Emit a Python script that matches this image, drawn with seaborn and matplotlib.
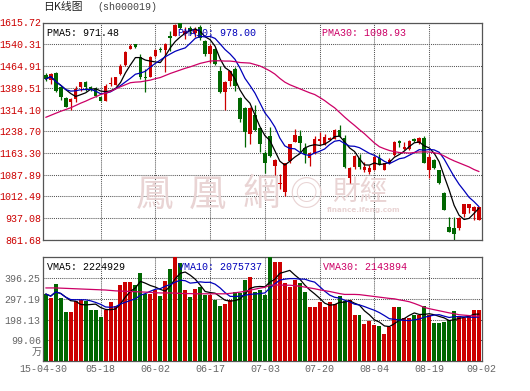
import numpy as np
import pandas as pd
import matplotlib
matplotlib.use("Agg")
import matplotlib.pyplot as plt
import seaborn as sns
from matplotlib.transforms import blended_transform_factory

# ---------------- data ----------------
opens = [1433.4, 1416.2, 1439.2, 1390.9, 1353.0, 1339.0, 1350.7, 1390.9, 1408.2, 1390.9,
         1385.2, 1356.4, 1344.9, 1402.4, 1400.1, 1436.9, 1467.9, 1523.1, 1540.3, 1494.4,
         1427.7, 1427.7, 1500.1, 1525, 1520, 1569, 1569, 1615, 1576, 1595,
         1578, 1600, 1552, 1506, 1523, 1448, 1374, 1414, 1454, 1353,
         1318, 1230, 1296, 1251, 1163, 1221, 1117, 1055, 1029, 1136,
         1201, 1221, 1182, 1147, 1163, 1204, 1193, 1209, 1213, 1244,
         1216, 1075, 1115, 1147, 1104, 1098, 1106, 1147, 1106, 1127,
         1155, 1204, 1178, 1178, 1213, 1198, 1216, 1106, 1140, 1104,
         1023, 908, 902, 902, 952, 971, 963, 931]
highs = [1440.3, 1439.2, 1442.6, 1396.7, 1358.7, 1353.0, 1396.7, 1408.2, 1413.9, 1396.7,
         1390.9, 1358.7, 1402.4, 1425.4, 1427.7, 1471.4, 1517.4, 1540.3, 1542.6, 1505.9,
         1454.1, 1500.1, 1523.1, 1530, 1543, 1586, 1612, 1615.7, 1600, 1605,
         1600, 1607, 1555, 1540, 1528, 1465, 1412, 1448, 1460, 1356,
         1322, 1322, 1328, 1253, 1170, 1253, 1142, 1092, 1129, 1196,
         1247, 1242, 1198, 1167, 1221, 1236, 1228, 1219, 1247, 1262,
         1224, 1115, 1155, 1161, 1132, 1121, 1153, 1161, 1129, 1147,
         1205, 1209, 1201, 1207, 1216, 1219, 1221, 1161, 1143, 1106,
         1029, 940, 943, 943, 986, 986, 980, 977]
lows = [1413.9, 1402.4, 1373.7, 1347.2, 1321.9, 1312.8, 1339.0, 1379.4, 1377.1, 1379.4,
        1358.7, 1342.6, 1344.9, 1396.7, 1398.0, 1434.6, 1465.6, 1523.1, 1528.9, 1419.7,
        1373.7, 1425.4, 1496.7, 1512, 1443, 1518, 1569, 1592, 1560, 1575,
        1565, 1555, 1500, 1477, 1468, 1372, 1311, 1397, 1379, 1270,
        1184, 1196, 1240, 1167, 1094, 1150, 1086, 1040, 1014, 1127,
        1201, 1167, 1129, 1117, 1161, 1190, 1190, 1207, 1213, 1219,
        1113, 1058, 1109, 1109, 1098, 1090, 1104, 1121, 1104, 1124,
        1153, 1184, 1175, 1175, 1201, 1196, 1127, 1075, 1109, 1055,
        966, 891, 862, 897, 940, 954, 931, 931]
closes = [1419.6, 1436.9, 1377.1, 1358.7, 1324.3, 1350.7, 1385.2, 1408.2, 1390.9, 1385.2,
          1362.2, 1344.9, 1396.7, 1404.8, 1425.4, 1465.6, 1513.9, 1534.6, 1531.2, 1425.4,
          1421.9, 1496.7, 1519.7, 1520, 1540, 1563, 1607, 1598, 1585, 1585,
          1592, 1563, 1506, 1535, 1471, 1374, 1410, 1446, 1397, 1282,
          1236, 1318, 1242, 1195, 1127, 1152, 1140, 1061, 1127, 1193,
          1224, 1198, 1161, 1165, 1213, 1211, 1219, 1215, 1242, 1221,
          1115, 1112, 1153, 1115, 1115, 1112, 1150, 1124, 1127, 1140,
          1201, 1198, 1184, 1205, 1205, 1216, 1129, 1150, 1112, 1058,
          966, 891, 883, 939, 985, 985, 977, 975]
pma30 = [1287, 1294, 1301, 1308, 1314, 1320, 1328, 1336, 1343, 1351,
         1358, 1366, 1371, 1377, 1385, 1393, 1400, 1407, 1409, 1410,
         1413, 1416, 1421, 1425, 1432, 1439, 1445, 1451, 1457, 1462,
         1468, 1474, 1478, 1482, 1483, 1483, 1482, 1482, 1480, 1477,
         1476, 1475, 1470, 1465, 1457, 1448, 1437, 1422, 1409, 1400,
         1393, 1386, 1379, 1372, 1366, 1356, 1345, 1332, 1320, 1304,
         1288, 1273, 1259, 1244, 1230, 1214, 1198, 1185, 1178, 1172,
         1168, 1165, 1164, 1163, 1165, 1167, 1167, 1167, 1164, 1161,
         1153, 1144, 1136, 1129, 1122, 1115, 1106, 1099]
volume = [320, 300, 370, 300, 235, 235, 288, 293, 288, 245,
          245, 208, 245, 282, 262, 365, 375, 378, 365, 420,
          320, 320, 340, 310, 380, 440, 495, 470, 340, 305,
          345, 355, 315, 315, 290, 262, 270, 292, 330, 325,
          385, 400, 330, 340, 317, 495, 471, 471, 374, 353,
          385, 374, 330, 257, 257, 281, 257, 281, 270, 312,
          285, 293, 221, 221, 178, 189, 173, 168, 130, 162,
          257, 260, 205, 205, 221, 221, 261, 221, 181, 181,
          186, 197, 240, 213, 205, 213, 245, 245]
vma30 = [349, 349, 349, 348, 347, 346, 345, 344, 343, 342,
         341, 340, 339, 337, 335, 334, 333, 332, 331, 330,
         329, 328, 326, 325, 325, 325, 324, 323, 322, 322,
         321, 321, 321, 321, 321, 321, 321, 323, 326, 329,
         333, 338, 343, 348, 352, 362, 363, 363, 362, 362,
         360, 357, 353, 349, 345, 340, 336, 332, 327, 322,
         318, 318, 318, 317, 314, 311, 308, 305, 302, 299,
         297, 292, 288, 283, 275, 266, 256, 250, 245, 240,
         235, 230, 226, 221, 219, 217, 215, 214]

price_ticks = [861.68, 937.08, 1012.49, 1087.89, 1163.30, 1238.70, 1314.10, 1389.51, 1464.91, 1540.31, 1615.72]
price_tick_labels = ["861.68", "937.08", "1012.49", "1087.89", "1163.30", "1238.70",
                     "1314.10", "1389.51", "1464.91", "1540.31", "1615.72"]
vol_ticks = [99.06, 198.13, 297.19, 396.25]
vol_tick_labels = ["99.06", "198.13", "297.19", "396.25"]
date_tick_pos = [0, 11, 22, 33, 44, 55, 66, 77, 87]
date_tick_labels = ["15-04-30", "05-18", "06-02", "06-17", "07-03", "07-20", "08-04", "08-19", "09-02"]
title_text = "日K线图"
code_text = "(sh000019)"
price_legend = ["PMA5: 971.48", "PMA10: 978.00", "PMA30: 1098.93"]
vol_legend = ["VMA5: 2224929", "VMA10: 2075737", "VMA30: 2143894"]

# ---------------- style ----------------
sns.set_style("white")
plt.rcParams["font.family"] = ["Liberation Mono", "Noto Sans CJK SC", "DejaVu Sans"]

RED = "#cc0000"
GREEN = "#006600"
BLUE = "#0000bb"
MAG = "#cc0066"
GRID = "#555555"
W, H = 530, 391

def fx(x):
    return x / W

def fy(y):
    return 1 - y / H

fig = plt.figure(figsize=(W / 100, H / 100), dpi=100)
fig.patch.set_facecolor("white")
L, R = 43.3, 481.5
ax1 = fig.add_axes([fx(L), fy(240), (R - L) / W, (240 - 22.5) / H])
ax2 = fig.add_axes([fx(L), fy(361), (R - L) / W, (361 - 257.3) / H])

idx = np.arange(len(closes))
o = np.array(opens, float)
c = np.array(closes, float)
hi = np.array(highs, float)
lo = np.array(lows, float)
up = c >= o
cols = np.where(up, RED, GREEN)

s_close = pd.Series(c)
pma5 = s_close.rolling(5, min_periods=1).mean()
pma10 = s_close.rolling(10, min_periods=1).mean()
s_vol = pd.Series(np.array(volume, float))
vma5 = s_vol.rolling(5, min_periods=1).mean()
vma10 = s_vol.rolling(10, min_periods=1).mean()

dotted = (0, (1, 1))

# ---------- price panel ----------
wm = dict(transform=fig.transFigure, color="#e9d4d4", zorder=0.6, va="center", ha="center")
for ch, xc in zip("鳳凰網", [155, 208, 261]):
    ax1.text(fx(xc), fy(195), ch, fontsize=27, family=["Noto Sans CJK TC"], **wm)
ax1.text(fx(306), fy(196), "◎", fontsize=24, family=["Noto Sans CJK TC", "DejaVu Sans"], **wm)
ax1.text(fx(360), fy(192), "財經", fontsize=20, family=["Noto Sans CJK TC"], **wm)
ax1.text(fx(364), fy(210), "finance.ifeng.com", fontsize=5.2, family=["DejaVu Sans"],
         fontweight="bold", **wm)

ax1.vlines(idx, lo, hi, colors=cols, lw=0.9, zorder=3)
body_h = np.maximum(np.abs(c - o), 2.5)
ax1.bar(idx, body_h, bottom=np.minimum(o, c), width=0.72, color=cols, linewidth=0, zorder=4)
sns.lineplot(x=idx, y=pma5.values, ax=ax1, color="black", lw=0.9, zorder=5)
sns.lineplot(x=idx, y=pma10.values, ax=ax1, color=BLUE, lw=0.9, zorder=5)
sns.lineplot(x=idx, y=pma30, ax=ax1, color=MAG, lw=0.9, zorder=5)

ax1.set_xlim(-0.5, len(idx) - 0.5)
ax1.set_ylim(price_ticks[0], price_ticks[-1])
ax1.set_yticks(price_ticks)
ax1.set_yticklabels(price_tick_labels)
ax1.set_xticks(date_tick_pos[1:-1])
ax1.set_xticklabels([])
ax1.tick_params(axis="y", length=0, pad=1.3, labelsize=7.2, labelcolor=RED)
ax1.tick_params(axis="x", length=0)
ax1.grid(True, color=GRID, lw=0.75, ls=dotted)
ax1.set_xlabel("")
ax1.set_ylabel("")

for txt, xp, col in zip(price_legend, [47, 178, 322], ["black", BLUE, MAG]):
    ax1.text(fx(xp), fy(32.5), txt, transform=fig.transFigure, fontsize=7.2, color=col,
             va="center", ha="left", zorder=6)

# ---------- volume panel ----------
vdf = pd.DataFrame({"i": idx, "vol": volume, "dir": np.where(up, "up", "down")})
sns.barplot(data=vdf, x="i", y="vol", hue="dir", palette={"up": RED, "down": GREEN},
            native_scale=True, dodge=False, width=0.8, saturation=1, errorbar=None,
            legend=False, linewidth=0, ax=ax2, zorder=3)
sns.lineplot(x=idx, y=vma5.values, ax=ax2, color="black", lw=0.9, zorder=5)
sns.lineplot(x=idx, y=vma10.values, ax=ax2, color=BLUE, lw=0.9, zorder=5)
sns.lineplot(x=idx, y=vma30, ax=ax2, color=MAG, lw=0.9, zorder=5)

ax2.set_xlim(-0.5, len(idx) - 0.5)
ax2.set_ylim(0, 495.31)
ax2.set_yticks(vol_ticks)
ax2.set_yticklabels(vol_tick_labels)
ax2.set_xticks(date_tick_pos[1:-1])
ax2.set_xticklabels([])
ax2.tick_params(axis="y", length=0, pad=1.8, labelsize=7.2, labelcolor="#666666")
ax2.tick_params(axis="x", length=0)
ax2.grid(True, color=GRID, lw=0.75, ls=dotted)
ax2.set_axisbelow(True)
ax2.set_xlabel("")
ax2.set_ylabel("")

for txt, xp, col in zip(vol_legend, [47, 178, 323], ["black", BLUE, MAG]):
    ax2.text(fx(xp), fy(267), txt, transform=fig.transFigure, fontsize=7.2, color=col,
             va="center", ha="left", zorder=6)
fig.text(fx(41.5), fy(352), "万", fontsize=7.2, color="#666666", ha="right", va="center",
         family=["Noto Sans CJK SC"])

for ax in (ax1, ax2):
    for sp in ax.spines.values():
        sp.set_visible(True)
        sp.set_color("#555555")
        sp.set_linewidth(0.9)

# date labels under the volume panel
lab_x = list(date_tick_pos)
lab_x[0] = -0.5
lab_x[-1] = len(idx) - 0.5
tr = blended_transform_factory(ax2.transData, fig.transFigure)
for xp, lab in zip(lab_x, date_tick_labels):
    ax2.text(xp, fy(369.5), lab, transform=tr, fontsize=7.2, color="#666666",
             ha="center", va="center", clip_on=False)

# title
fig.text(fx(43), fy(7), title_text, fontsize=7.8, color="#222222", ha="left", va="center",
         family=["Noto Sans CJK SC"])
fig.text(fx(97), fy(7), code_text, fontsize=7.2, color="#444444", ha="left", va="center")

fig.savefig("out.png", dpi=100)
